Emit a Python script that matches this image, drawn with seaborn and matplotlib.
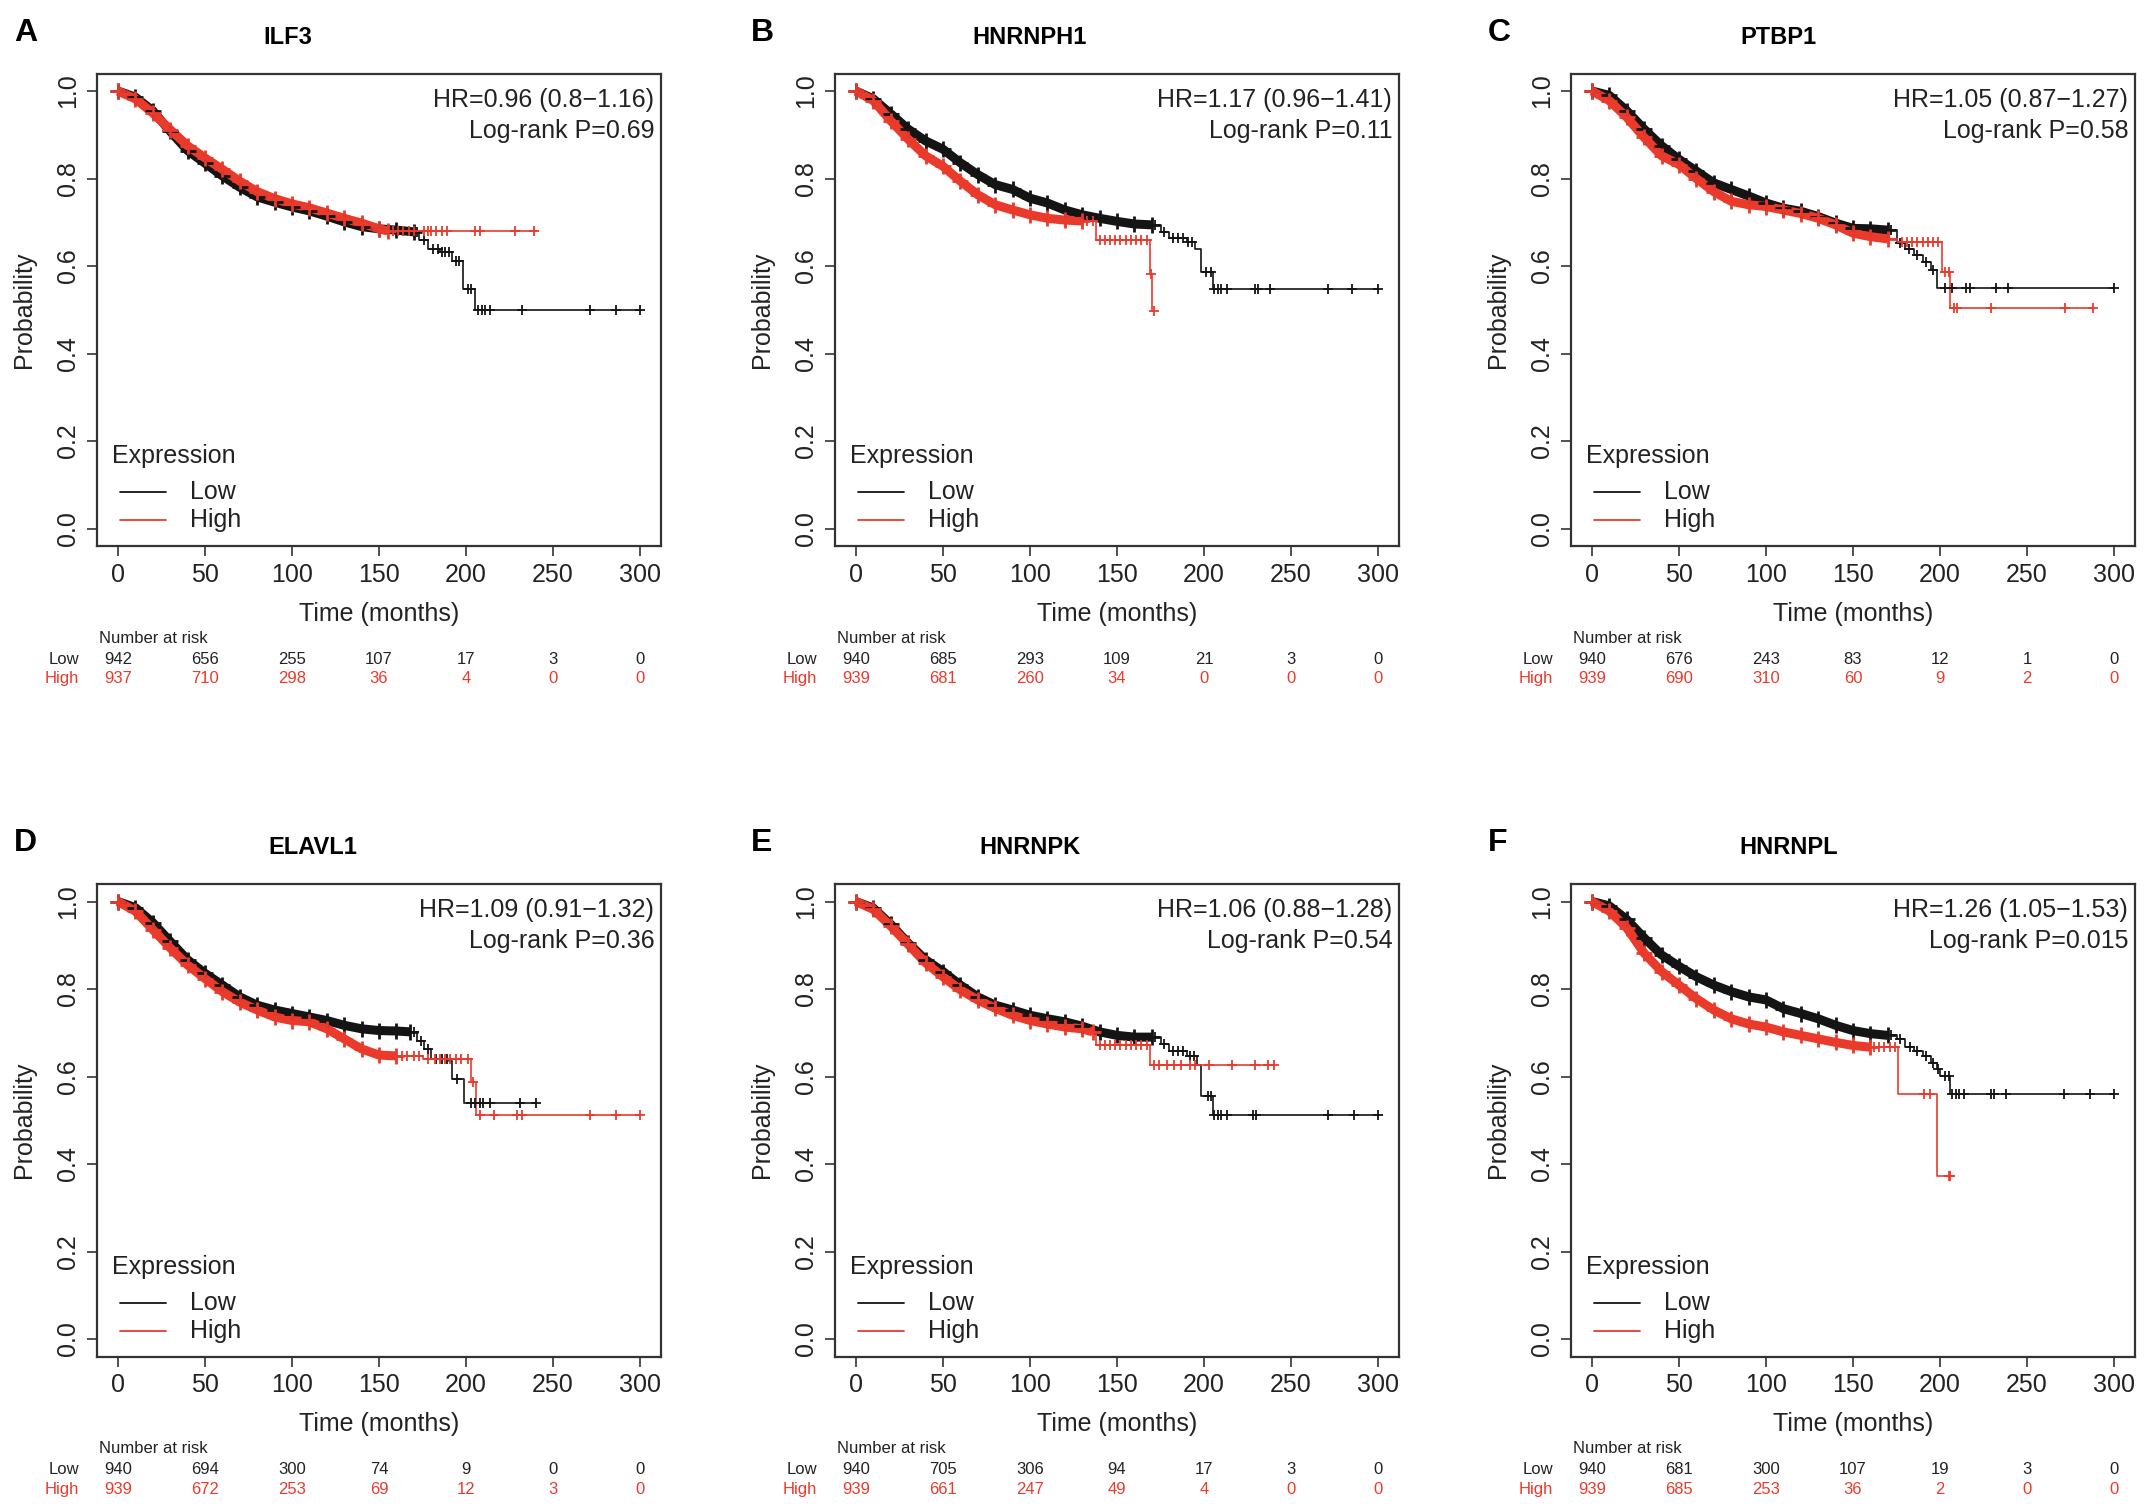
import numpy as np
import matplotlib
matplotlib.use("Agg")
import matplotlib.pyplot as plt
import matplotlib.transforms as mtransforms
from matplotlib.lines import Line2D
import seaborn as sns

# ---- panel texts ----
letters = ["A", "B", "C", "D", "E", "F"]
genes = ["ILF3", "HNRNPH1", "PTBP1", "ELAVL1", "HNRNPK", "HNRNPL"]
hr_labels = ["HR=0.96 (0.8\u22121.16)", "HR=1.17 (0.96\u22121.41)", "HR=1.05 (0.87\u22121.27)",
             "HR=1.09 (0.91\u22121.32)", "HR=1.06 (0.88\u22121.28)", "HR=1.26 (1.05\u22121.53)"]
p_labels = ["Log-rank P=0.69", "Log-rank P=0.11", "Log-rank P=0.58",
            "Log-rank P=0.36", "Log-rank P=0.54", "Log-rank P=0.015"]

# ---- number at risk ----
risk_times = [0, 50, 100, 150, 200, 250, 300]
risk_low = [[942, 656, 255, 107, 17, 3, 0],
            [940, 685, 293, 109, 21, 3, 0],
            [940, 676, 243, 83, 12, 1, 0],
            [940, 694, 300, 74, 9, 0, 0],
            [940, 705, 306, 94, 17, 3, 0],
            [940, 681, 300, 107, 19, 3, 0]]
risk_high = [[937, 710, 298, 36, 4, 0, 0],
             [939, 681, 260, 34, 0, 0, 0],
             [939, 690, 310, 60, 9, 2, 0],
             [939, 672, 253, 69, 12, 3, 0],
             [939, 661, 247, 49, 4, 0, 0],
             [939, 685, 253, 36, 2, 0, 0]]

# ---- survival curves: dense part (read points), tail (KM steps), tail censor times ----
# ILF3
ilf3_low_t = [0, 10, 20, 30, 40, 50, 60, 70, 80, 90, 100, 110, 120, 130, 140, 150, 160, 170]
ilf3_low_s = [1.0, 0.986, 0.955, 0.908, 0.864, 0.835, 0.806, 0.780, 0.758, 0.746, 0.735, 0.726, 0.714, 0.701, 0.690, 0.685, 0.682, 0.678]
ilf3_low_tail_t = [170, 173, 178, 185, 192, 198, 205, 300]
ilf3_low_tail_s = [0.678, 0.660, 0.640, 0.632, 0.612, 0.547, 0.500, 0.500]
ilf3_low_cens = [172, 176, 181, 184, 186, 188, 190, 194, 196, 201, 203, 207, 209, 211, 214, 232, 271, 286, 300]
ilf3_high_t = [0, 10, 20, 30, 40, 50, 60, 70, 80, 90, 100, 110, 120, 130, 140, 150, 155]
ilf3_high_s = [1.0, 0.982, 0.950, 0.912, 0.875, 0.847, 0.821, 0.794, 0.770, 0.754, 0.742, 0.733, 0.721, 0.709, 0.698, 0.685, 0.680]
ilf3_high_tail_t = [155, 240]
ilf3_high_tail_s = [0.680, 0.680]
ilf3_high_cens = [158, 161, 164, 167, 170, 176, 178, 180, 183, 186, 189, 205, 208, 228, 239]

# HNRNPH1
hnrnph1_low_t = [0, 10, 20, 30, 40, 50, 60, 70, 80, 90, 100, 110, 120, 130, 140, 150, 160, 170]
hnrnph1_low_s = [1.0, 0.982, 0.948, 0.913, 0.886, 0.867, 0.836, 0.809, 0.786, 0.775, 0.755, 0.744, 0.728, 0.717, 0.709, 0.702, 0.696, 0.694]
hnrnph1_low_tail_t = [170, 175, 180, 190, 195, 198, 205, 300]
hnrnph1_low_tail_s = [0.694, 0.678, 0.663, 0.655, 0.640, 0.586, 0.547, 0.547]
hnrnph1_low_cens = [172, 177, 182, 185, 188, 191, 193, 201, 204, 206, 208, 210, 213, 229, 231, 238, 271, 285, 300]
hnrnph1_high_t = [0, 10, 20, 30, 40, 50, 60, 70, 80, 90, 100, 110, 120, 130]
hnrnph1_high_s = [1.0, 0.978, 0.932, 0.890, 0.852, 0.828, 0.794, 0.763, 0.740, 0.728, 0.717, 0.709, 0.705, 0.703]
hnrnph1_high_tail_t = [130, 138, 169, 170, 171]
hnrnph1_high_tail_s = [0.703, 0.660, 0.581, 0.497, 0.497]
hnrnph1_high_cens = [133, 136, 140, 143, 146, 149, 152, 155, 158, 161, 164, 167, 169.5, 171]

# PTBP1
ptbp1_low_t = [0, 10, 20, 30, 40, 50, 60, 70, 80, 90, 100, 110, 120, 130, 140, 150, 160, 170]
ptbp1_low_s = [1.0, 0.990, 0.955, 0.913, 0.875, 0.844, 0.817, 0.790, 0.775, 0.760, 0.744, 0.732, 0.725, 0.713, 0.698, 0.686, 0.685, 0.682]
ptbp1_low_tail_t = [170, 175, 180, 185, 190, 195, 198, 300]
ptbp1_low_tail_s = [0.682, 0.652, 0.640, 0.625, 0.609, 0.590, 0.549, 0.549]
ptbp1_low_cens = [172, 177, 182, 187, 192, 196, 203, 207, 215, 217, 232, 239, 300]
ptbp1_high_t = [0, 10, 20, 30, 40, 50, 60, 70, 80, 90, 100, 110, 120, 130, 140, 150, 160, 170]
ptbp1_high_s = [1.0, 0.978, 0.940, 0.894, 0.852, 0.832, 0.800, 0.770, 0.748, 0.740, 0.736, 0.728, 0.720, 0.709, 0.694, 0.675, 0.667, 0.662]
ptbp1_high_tail_t = [170, 175, 201, 206, 288]
ptbp1_high_tail_s = [0.662, 0.655, 0.587, 0.503, 0.503]
ptbp1_high_cens = [178, 181, 184, 187, 190, 193, 196, 199, 203, 205, 208, 210, 229, 272, 288]

# ELAVL1
elavl1_low_t = [0, 10, 20, 30, 40, 50, 60, 70, 80, 90, 100, 110, 120, 130, 140, 150, 160, 168]
elavl1_low_s = [1.0, 0.986, 0.952, 0.909, 0.867, 0.836, 0.809, 0.782, 0.763, 0.752, 0.744, 0.736, 0.728, 0.717, 0.709, 0.705, 0.704, 0.702]
elavl1_low_tail_t = [168, 172, 176, 180, 190, 192, 199, 240]
elavl1_low_tail_s = [0.702, 0.682, 0.663, 0.640, 0.636, 0.594, 0.540, 0.540]
elavl1_low_cens = [170, 174, 178, 183, 186, 189, 195, 203, 205, 208, 210, 214, 231, 240]
elavl1_high_t = [0, 10, 20, 30, 40, 50, 60, 70, 80, 90, 100, 110, 120, 130, 140, 150, 160]
elavl1_high_s = [1.0, 0.978, 0.936, 0.894, 0.855, 0.824, 0.794, 0.770, 0.752, 0.736, 0.728, 0.725, 0.709, 0.686, 0.663, 0.649, 0.647]
elavl1_high_tail_t = [160, 175, 203, 206, 300]
elavl1_high_tail_s = [0.647, 0.640, 0.587, 0.513, 0.513]
elavl1_high_cens = [163, 166, 170, 173, 178, 182, 185, 188, 191, 194, 197, 201, 204, 208, 216, 229, 232, 271, 286, 300]

# HNRNPK
hnrnpk_low_t = [0, 10, 20, 30, 40, 50, 60, 70, 80, 90, 100, 110, 120, 130, 140, 150, 160, 170]
hnrnpk_low_s = [1.0, 0.985, 0.948, 0.905, 0.867, 0.840, 0.809, 0.782, 0.763, 0.752, 0.740, 0.732, 0.725, 0.715, 0.702, 0.694, 0.690, 0.690]
hnrnpk_low_tail_t = [170, 175, 180, 190, 196, 198, 205, 300]
hnrnpk_low_tail_s = [0.690, 0.675, 0.659, 0.648, 0.627, 0.555, 0.512, 0.512]
hnrnpk_low_cens = [172, 177, 182, 185, 188, 192, 194, 202, 204, 206, 208, 210, 213, 228, 230, 271, 286, 300]
hnrnpk_high_t = [0, 10, 20, 30, 40, 50, 60, 70, 80, 90, 100, 110, 120, 130, 136]
hnrnpk_high_s = [1.0, 0.982, 0.944, 0.902, 0.860, 0.828, 0.798, 0.775, 0.756, 0.740, 0.728, 0.720, 0.713, 0.709, 0.702]
hnrnpk_high_tail_t = [136, 138, 169, 240]
hnrnpk_high_tail_s = [0.702, 0.671, 0.627, 0.627]
hnrnpk_high_cens = [140, 143, 146, 149, 152, 155, 158, 161, 164, 167, 171, 174, 179, 183, 187, 192, 195, 203, 216, 229, 237, 240]

# HNRNPL
hnrnpl_low_t = [0, 10, 20, 30, 40, 50, 60, 70, 80, 90, 100, 110, 120, 130, 140, 150, 160, 170]
hnrnpl_low_s = [1.0, 0.990, 0.959, 0.917, 0.878, 0.852, 0.828, 0.809, 0.794, 0.782, 0.775, 0.755, 0.744, 0.732, 0.717, 0.705, 0.698, 0.694]
hnrnpl_low_tail_t = [170, 175, 180, 185, 190, 195, 198, 200, 206, 300]
hnrnpl_low_tail_s = [0.694, 0.686, 0.667, 0.659, 0.648, 0.632, 0.617, 0.602, 0.561, 0.561]
hnrnpl_low_cens = [172, 177, 183, 187, 192, 196, 199, 203, 205, 207, 209, 211, 214, 229, 231, 238, 271, 286, 300]
hnrnpl_high_t = [0, 10, 20, 30, 40, 50, 60, 70, 80, 90, 100, 110, 120, 130, 140, 150, 160]
hnrnpl_high_s = [1.0, 0.978, 0.940, 0.882, 0.840, 0.809, 0.778, 0.752, 0.732, 0.720, 0.713, 0.702, 0.694, 0.686, 0.678, 0.671, 0.667]
hnrnpl_high_tail_t = [160, 176, 198, 206]
hnrnpl_high_tail_s = [0.667, 0.561, 0.372, 0.372]
hnrnpl_high_cens = [162, 165, 168, 171, 174, 191, 194, 205, 206]

curves = [
    ((ilf3_low_t, ilf3_low_s, ilf3_low_tail_t, ilf3_low_tail_s, ilf3_low_cens),
     (ilf3_high_t, ilf3_high_s, ilf3_high_tail_t, ilf3_high_tail_s, ilf3_high_cens)),
    ((hnrnph1_low_t, hnrnph1_low_s, hnrnph1_low_tail_t, hnrnph1_low_tail_s, hnrnph1_low_cens),
     (hnrnph1_high_t, hnrnph1_high_s, hnrnph1_high_tail_t, hnrnph1_high_tail_s, hnrnph1_high_cens)),
    ((ptbp1_low_t, ptbp1_low_s, ptbp1_low_tail_t, ptbp1_low_tail_s, ptbp1_low_cens),
     (ptbp1_high_t, ptbp1_high_s, ptbp1_high_tail_t, ptbp1_high_tail_s, ptbp1_high_cens)),
    ((elavl1_low_t, elavl1_low_s, elavl1_low_tail_t, elavl1_low_tail_s, elavl1_low_cens),
     (elavl1_high_t, elavl1_high_s, elavl1_high_tail_t, elavl1_high_tail_s, elavl1_high_cens)),
    ((hnrnpk_low_t, hnrnpk_low_s, hnrnpk_low_tail_t, hnrnpk_low_tail_s, hnrnpk_low_cens),
     (hnrnpk_high_t, hnrnpk_high_s, hnrnpk_high_tail_t, hnrnpk_high_tail_s, hnrnpk_high_cens)),
    ((hnrnpl_low_t, hnrnpl_low_s, hnrnpl_low_tail_t, hnrnpl_low_tail_s, hnrnpl_low_cens),
     (hnrnpl_high_t, hnrnpl_high_s, hnrnpl_high_tail_t, hnrnpl_high_tail_s, hnrnpl_high_cens)),
]

LOW_COL = "#141414"
HIGH_COL = "#ea3a2c"
TXT = "#222222"

sns.set_theme(style="ticks")
plt.rcParams["font.family"] = ["Liberation Sans", "DejaVu Sans"]

W, H = 2150, 1511
ax_left_px = [97, 835, 1571]
ax_top_px = [73.5, 884]
ax_w_px, ax_h_px = 564, 472.5
letter_x_px = [14, 751, 1488]
title_cx_px = [288, 1030, 1778, 313, 1030, 1789]
row_baseline_px = [41, 851]
title_baseline_px = [44, 854]


def surv_at(tt, ts, x):
    idx = np.searchsorted(np.asarray(tt), np.asarray(x), side="right") - 1
    return np.asarray(ts)[np.clip(idx, 0, len(ts) - 1)]


def draw_curve(ax, curve, color):
    dt, ds, tt, ts, cens = curve
    # dense region: censor marks merge into a thick band
    sns.lineplot(x=dt, y=ds, ax=ax, color=color, linewidth=6.5, estimator=None,
                 sort=False, solid_capstyle="butt")
    sns.scatterplot(x=dt, y=ds, ax=ax, marker="+", s=120, color=color, linewidth=2.0, zorder=3)
    sns.lineplot(x=tt, y=ts, ax=ax, color=color, linewidth=1.2, estimator=None,
                 sort=False, drawstyle="steps-post")
    sns.scatterplot(x=cens, y=surv_at(tt, ts, cens), ax=ax, marker="+", s=60,
                    color=color, linewidth=1.3, zorder=3)


fig = plt.figure(figsize=(W / 100, H / 100), dpi=100)

for i in range(6):
    row, col = divmod(i, 3)
    ax = fig.add_axes([ax_left_px[col] / W, 1 - (ax_top_px[row] + ax_h_px) / H,
                       ax_w_px / W, ax_h_px / H])
    low, high = curves[i]
    draw_curve(ax, low, LOW_COL)
    draw_curve(ax, high, HIGH_COL)

    ax.set_xlim(-12, 312)
    ax.set_ylim(-0.04, 1.04)
    ax.set_xticks(risk_times)
    ax.set_xticklabels([str(t) for t in risk_times])
    ax.set_yticks([0, 0.2, 0.4, 0.6, 0.8, 1.0])
    ax.set_yticklabels(["0.0", "0.2", "0.4", "0.6", "0.8", "1.0"], rotation=90, va="center")
    ax.tick_params(direction="out", length=7, width=1.1, labelsize=18, colors=TXT,
                   bottom=True, left=True, top=False, right=False)
    ax.tick_params(axis="x", pad=5)
    ax.tick_params(axis="y", pad=5)
    for sp in ax.spines.values():
        sp.set_visible(True)
        sp.set_linewidth(1.6)
        sp.set_color("#333333")

    ax.set_xlabel("Time (months)", fontsize=18, color=TXT)
    ax.xaxis.set_label_coords(0.5, -68 / ax_h_px)
    ax.xaxis.label.set_va("center")
    ax.set_ylabel("Probability", fontsize=18, color=TXT)
    ax.yaxis.set_label_coords(-73 / ax_w_px, 0.5)
    ax.yaxis.label.set_va("center")

    # HR and p-value
    ax.text(0.988, 1 - 26.5 / ax_h_px, hr_labels[i], transform=ax.transAxes,
            ha="right", va="center", fontsize=18, color=TXT)
    ax.text(0.988, 1 - 57.5 / ax_h_px, p_labels[i], transform=ax.transAxes,
            ha="right", va="center", fontsize=18, color=TXT)

    # legend
    ax.text(0.026, 0.19, "Expression", transform=ax.transAxes, ha="left",
            va="center", fontsize=18, color=TXT)
    for lbl, c, y in [("Low", LOW_COL, 0.114), ("High", HIGH_COL, 0.055)]:
        ax.add_line(Line2D([0.041, 0.122], [y, y], transform=ax.transAxes,
                           color=c, lw=1.3))
        ax.text(0.165, y, lbl, transform=ax.transAxes, ha="left", va="center",
                fontsize=18, color=TXT)

    # number at risk table
    trans = mtransforms.blended_transform_factory(ax.transData, ax.transAxes)
    ax.text(0.003, -92 / ax_h_px, "Number at risk", transform=ax.transAxes,
            ha="left", va="center", fontsize=12, color=TXT)
    ax.text(-0.032, -113 / ax_h_px, "Low", transform=ax.transAxes, ha="right",
            va="center", fontsize=12, color=TXT)
    ax.text(-0.032, -132.6 / ax_h_px, "High", transform=ax.transAxes, ha="right",
            va="center", fontsize=12, color=HIGH_COL)
    for t, nl, nh in zip(risk_times, risk_low[i], risk_high[i]):
        ax.text(t, -113 / ax_h_px, str(nl), transform=trans, ha="center",
                va="center", fontsize=12, color=TXT)
        ax.text(t, -132.6 / ax_h_px, str(nh), transform=trans, ha="center",
                va="center", fontsize=12, color=HIGH_COL)

    # panel letter and gene title
    fig.text(letter_x_px[col] / W, 1 - row_baseline_px[row] / H, letters[i],
             ha="left", va="baseline", fontsize=23, fontweight="bold", color="black")
    fig.text(title_cx_px[i] / W, 1 - title_baseline_px[row] / H, genes[i],
             ha="center", va="baseline", fontsize=17, fontweight="bold", color="black")

fig.savefig("out.png", dpi=100, facecolor="white")
